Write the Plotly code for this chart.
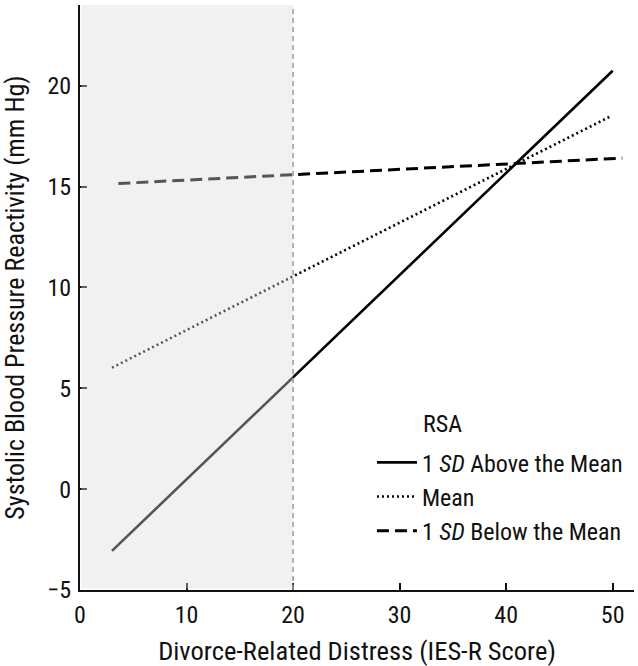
import plotly.graph_objects as go

# Data
series_names = ["1 <i>SD</i> Above the Mean", "Mean", "1 <i>SD</i> Below the Mean"]
above_x = [3.0, 50.0]
above_y = [-3.06, 20.74]
mean_x = [3.0, 49.8]
mean_y = [6.02, 18.48]
below_x = [3.6, 50.9]
below_y = [15.15, 16.41]
shade_end = 20
x_ticks = [0, 10, 20, 30, 40, 50]
y_ticks = [-5, 0, 5, 10, 15, 20]

FONT = "Liberation Sans Narrow, Arial Narrow, Roboto Condensed, DejaVu Sans Condensed, sans-serif"

fig = go.Figure()
styles = [
    dict(color="black", width=2.6, dash="solid"),
    dict(color="black", width=2.6, dash="2px,3px"),
    dict(color="black", width=3, dash="12px,6px"),
]
for i, (xs, ys) in enumerate([(above_x, above_y), (mean_x, mean_y), (below_x, below_y)]):
    fig.add_trace(go.Scatter(x=xs, y=ys, mode="lines", name=series_names[i],
                             line=styles[i], legendgroup=f"g{i}"))

# shaded region drawn above the lines (greys them)
fig.add_shape(type="rect", xref="x", yref="y", x0=0.12, x1=shade_end, y0=-4.93, y1=24,
              fillcolor="rgba(218,218,218,0.39)", line=dict(width=0), layer="above")
fig.add_shape(type="line", xref="x", yref="y", x0=shade_end, x1=shade_end, y0=-5, y1=24,
              line=dict(color="#9a9a9a", width=1.5, dash="5px,4px"), layer="above")

fig.add_annotation(text="RSA", xref="paper", yref="paper", x=0.615, y=0.284,
                   xanchor="left", yanchor="middle", showarrow=False,
                   font=dict(family=FONT, size=24, color="#111"))

fig.update_layout(
    width=638, height=666,
    margin=dict(l=80, r=4, t=5, b=76),
    plot_bgcolor="white", paper_bgcolor="white",
    font=dict(family=FONT, size=24, color="#111"),
    showlegend=True,
    legend=dict(x=0.527, y=0.256, xanchor="left", yanchor="top",
                bgcolor="rgba(0,0,0,0)", tracegroupgap=0, itemwidth=40,
                font=dict(family=FONT, size=24, color="#111")),
    xaxis=dict(range=[0, 52], tickvals=x_ticks, ticks="inside", ticklen=7, tickwidth=1.5,
               tickcolor="#111", showline=True, linecolor="#111", linewidth=2,
               showgrid=False, zeroline=False, ticklabelstandoff=2, automargin=False,
               tickfont=dict(size=24),
               title=dict(text="Divorce-Related Distress (IES-R Score)", standoff=14,
                          font=dict(family=FONT, size=26.5))),
    yaxis=dict(range=[-5, 24], tickvals=y_ticks, ticks="inside", ticklen=7, tickwidth=1.5,
               tickcolor="#111", showline=True, linecolor="#111", linewidth=2,
               showgrid=False, zeroline=False, ticklabelstandoff=2, automargin=False,
               tickfont=dict(size=24),
               title=dict(text="Systolic Blood Pressure Reactivity (mm Hg)", standoff=20,
                          font=dict(family=FONT, size=26))),
)

fig.write_html("out.html", config={"displayModeBar": False},
               post_script="document.body.style.margin='0';")
